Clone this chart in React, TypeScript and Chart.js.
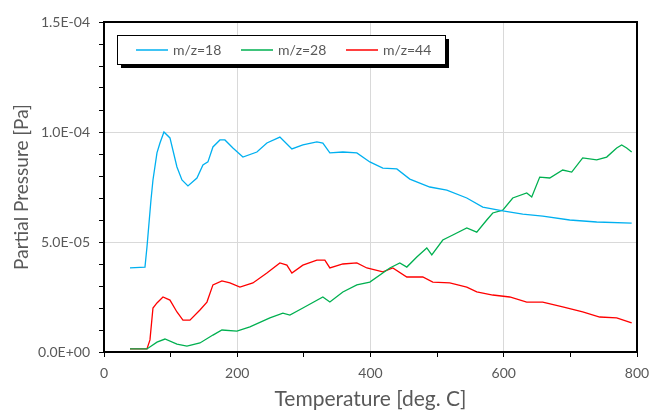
import React, { useEffect, useRef } from "react";
import { Chart, registerables } from "chart.js";

Chart.register(...registerables);

// Temperature [deg. C] / partial pressure [Pa]
const temp18 = [39, 61.5, 64.5, 70.5, 73.5, 79.5, 84, 90, 99, 109.5, 117, 126, 139.5, 148.5, 156, 163.5, 174, 181.5, 193.5, 208.5, 229.5, 244.5, 264, 282, 298.5, 319.5, 328.5, 339, 358.5, 379.5, 399, 418.5, 439.5, 459, 489, 514.5, 544.5, 568.5, 598.5, 628.5, 658.5, 699, 739.5, 792];
const mz18 = [3.82e-5, 3.86e-5, 4.77e-5, 6.91e-5, 7.82e-5, 9.05e-5, 9.5e-5, 10.0e-5, 9.73e-5, 8.41e-5, 7.82e-5, 7.55e-5, 7.91e-5, 8.5e-5, 8.64e-5, 9.32e-5, 9.64e-5, 9.64e-5, 9.27e-5, 8.86e-5, 9.09e-5, 9.5e-5, 9.77e-5, 9.23e-5, 9.41e-5, 9.55e-5, 9.5e-5, 9.05e-5, 9.09e-5, 9.05e-5, 8.64e-5, 8.36e-5, 8.32e-5, 7.86e-5, 7.5e-5, 7.36e-5, 7.0e-5, 6.59e-5, 6.41e-5, 6.27e-5, 6.18e-5, 6.0e-5, 5.91e-5, 5.86e-5];

const temp28 = [39, 64.5, 79.5, 91.5, 109.5, 124.5, 144, 163.5, 177, 199.5, 219, 249, 268.5, 279, 298.5, 328.5, 339, 358.5, 379.5, 399, 429, 444, 454.5, 469.5, 484.5, 492, 508.5, 523.5, 544.5, 559.5, 574.5, 583.5, 598.5, 613.5, 634.5, 642, 654, 669, 688.5, 702, 718.5, 739.5, 754.5, 769.5, 777, 784.5, 792];
const mz28 = [0.14e-5, 0.14e-5, 0.45e-5, 0.59e-5, 0.36e-5, 0.27e-5, 0.41e-5, 0.77e-5, 1.0e-5, 0.95e-5, 1.14e-5, 1.55e-5, 1.77e-5, 1.68e-5, 2.0e-5, 2.5e-5, 2.27e-5, 2.73e-5, 3.05e-5, 3.18e-5, 3.82e-5, 4.05e-5, 3.86e-5, 4.32e-5, 4.73e-5, 4.41e-5, 5.09e-5, 5.32e-5, 5.64e-5, 5.45e-5, 6.0e-5, 6.32e-5, 6.45e-5, 7.0e-5, 7.23e-5, 7.05e-5, 7.95e-5, 7.91e-5, 8.27e-5, 8.18e-5, 8.82e-5, 8.73e-5, 8.86e-5, 9.27e-5, 9.41e-5, 9.27e-5, 9.09e-5];

const temp44 = [39, 64.5, 69, 73.5, 79.5, 88.5, 99, 109.5, 118.5, 129, 144, 154.5, 163.5, 177, 189, 204, 223.5, 244.5, 264, 274.5, 282, 298.5, 319.5, 331.5, 339, 358.5, 379.5, 394.5, 418.5, 433.5, 454.5, 478.5, 493.5, 519, 544.5, 559.5, 583.5, 609, 634.5, 658.5, 688.5, 718.5, 744, 769.5, 792];
const mz44 = [0.14e-5, 0.14e-5, 0.55e-5, 2.0e-5, 2.23e-5, 2.5e-5, 2.36e-5, 1.82e-5, 1.45e-5, 1.45e-5, 1.91e-5, 2.27e-5, 3.05e-5, 3.23e-5, 3.14e-5, 2.95e-5, 3.14e-5, 3.59e-5, 4.05e-5, 3.95e-5, 3.59e-5, 3.95e-5, 4.18e-5, 4.18e-5, 3.82e-5, 4.0e-5, 4.05e-5, 3.82e-5, 3.64e-5, 3.82e-5, 3.41e-5, 3.41e-5, 3.18e-5, 3.14e-5, 2.95e-5, 2.73e-5, 2.59e-5, 2.5e-5, 2.27e-5, 2.27e-5, 2.05e-5, 1.82e-5, 1.59e-5, 1.55e-5, 1.32e-5];

const seriesLabels = ["m/z=18", "m/z=28", "m/z=44"];
const seriesColors = ["#00B0F0", "#00B050", "#FF0000"];

const xTitle = "Temperature [deg. C]";
const yTitle = "Partial Pressure [Pa]";

const FONT = "Lato, 'Noto Sans', sans-serif";
const GRAY = "#595959";

function fmtSci(v: number): string {
  if (v === 0) return "0.0E+00";
  const [m, e] = v.toExponential(1).split("e");
  const n = parseInt(e, 10);
  return m + "E" + (n < 0 ? "-" : "+") + String(Math.abs(n)).padStart(2, "0");
}

const isMultiple = (v: number, step: number) => Math.abs(v / step - Math.round(v / step)) < 1e-6;

const framePlugin = {
  id: "frame",
  afterDatasetsDraw(chart: any) {
    const { ctx, chartArea: a } = chart;
    ctx.save();
    ctx.strokeStyle = "#000";
    ctx.lineWidth = 2;
    ctx.beginPath();
    ctx.moveTo(a.left, a.top);
    ctx.lineTo(a.right, a.top);
    ctx.lineTo(a.right, a.bottom);
    ctx.stroke();
    ctx.restore();
  },
  afterDraw(chart: any) {
    const { ctx, chartArea: a } = chart;
    const bx = a.left + 13;
    const by = a.top + 13;
    const bw = 328;
    const bh = 29;
    ctx.save();
    ctx.fillStyle = "#000";
    ctx.fillRect(bx + 4, by + 4, bw, bh);
    ctx.fillStyle = "#fff";
    ctx.fillRect(bx, by, bw, bh);
    ctx.strokeStyle = "#000";
    ctx.lineWidth = 1;
    ctx.strokeRect(bx + 0.5, by + 0.5, bw, bh);
    ctx.font = "14px " + FONT;
    ctx.textBaseline = "middle";
    ctx.fillStyle = GRAY;
    const cy = by + bh / 2 + 0.5;
    chart.data.datasets.forEach((ds: any, i: number) => {
      const lx = bx + 19 + i * 105;
      ctx.strokeStyle = ds.borderColor;
      ctx.lineWidth = 1.5;
      ctx.beginPath();
      ctx.moveTo(lx, cy);
      ctx.lineTo(lx + 32, cy);
      ctx.stroke();
      ctx.fillStyle = GRAY;
      ctx.fillText(ds.label, lx + 37, cy);
    });
    ctx.restore();
  },
};

export default function App() {
  const ref = useRef<HTMLCanvasElement | null>(null);

  useEffect(() => {
    document.body.style.margin = "0";
    if (!ref.current) return;
    const mk = (xs: number[], ys: number[]) => xs.map((x, i) => ({ x, y: ys[i] }));
    const chart = new Chart(ref.current, {
      type: "line",
      data: {
        datasets: [
          { label: seriesLabels[0], data: mk(temp18, mz18), borderColor: seriesColors[0] },
          { label: seriesLabels[1], data: mk(temp28, mz28), borderColor: seriesColors[1] },
          { label: seriesLabels[2], data: mk(temp44, mz44), borderColor: seriesColors[2] },
        ].map((d) => ({ ...d, borderWidth: 1.3, pointRadius: 0, tension: 0, fill: false })),
      },
      options: {
        animation: false,
        responsive: false,
        devicePixelRatio: 1,
        layout: { padding: { top: 22, right: 13, left: 0, bottom: 0 } },
        plugins: { legend: { display: false }, tooltip: { enabled: false } },
        scales: {
          x: {
            type: "linear",
            min: 0,
            max: 800,
            afterFit: (s: any) => { s.height = 58; s.paddingRight = 0; s.paddingLeft = 0; },
            ticks: {
              stepSize: 100,
              autoSkip: false,
              maxRotation: 0,
              padding: 8,
              color: GRAY,
              font: { family: FONT, size: 14 },
              callback: (v: any) => (isMultiple(Number(v), 200) ? String(v) : ""),
            },
            grid: {
              color: (c: any) => (isMultiple(c.tick?.value ?? 0, 200) ? "#D9D9D9" : "rgba(0,0,0,0)"),
              tickColor: "#000",
              tickLength: 5,
              lineWidth: 1,
            },
            border: { display: true, color: "#000", width: 2 },
            title: {
              display: true,
              text: xTitle,
              color: GRAY,
              font: { family: FONT, size: 21, lineHeight: 1 },
              padding: { top: 0, bottom: 0 },
            },
          },
          y: {
            type: "linear",
            min: 0,
            max: 1.5e-4,
            afterFit: (s: any) => { s.width = 104; s.paddingTop = 0; s.paddingBottom = 0; },
            ticks: {
              stepSize: 1e-5,
              autoSkip: false,
              padding: 9,
              color: GRAY,
              font: { family: FONT, size: 14 },
              callback: (v: any) => (isMultiple(Number(v), 5e-5) ? fmtSci(Number(v)) : ""),
            },
            grid: {
              color: (c: any) => (isMultiple(c.tick?.value ?? 0, 5e-5) ? "#D9D9D9" : "rgba(0,0,0,0)"),
              tickColor: "#000",
              tickLength: 5,
              lineWidth: 1,
            },
            border: { display: true, color: "#000", width: 2 },
            title: {
              display: true,
              text: yTitle,
              color: GRAY,
              font: { family: FONT, size: 19, lineHeight: 1 },
              padding: { top: 12, bottom: 0 },
            },
          },
        },
      },
      plugins: [framePlugin],
    } as any);
    return () => chart.destroy();
  }, []);

  return (
    <div style={{ width: 650, height: 410 }}>
      <canvas ref={ref} width={650} height={410} style={{ display: "block" }} />
    </div>
  );
}
